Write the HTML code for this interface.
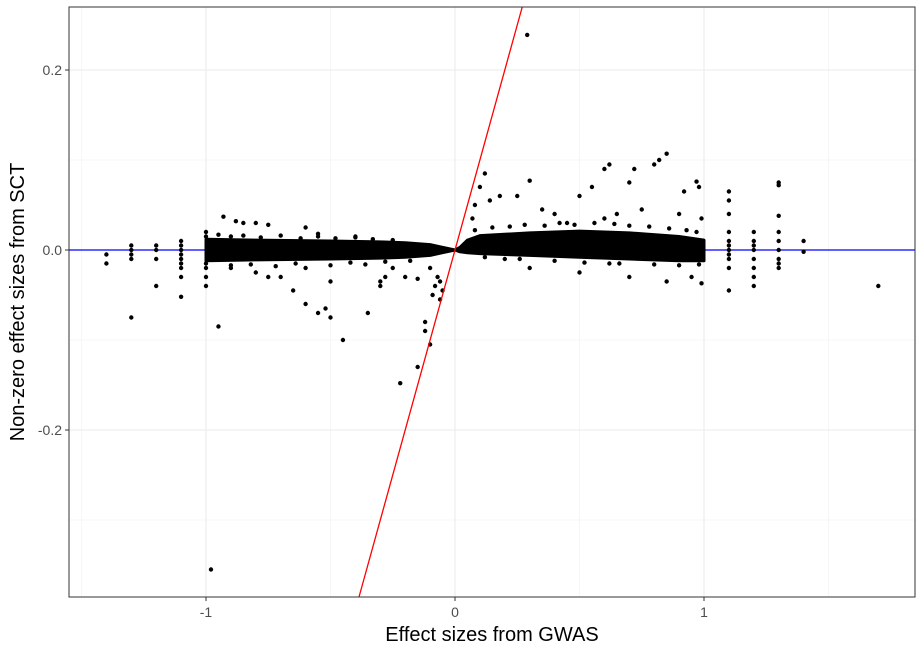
<!DOCTYPE html>
<html><head><meta charset="utf-8"><style>
body{margin:0;background:#fff}
svg{display:block;font-family:"Liberation Sans",sans-serif}
</style></head><body>
<svg id="chart" width="923" height="652" viewBox="0 0 923 652" xmlns="http://www.w3.org/2000/svg">
<rect x="0" y="0" width="923" height="652" fill="#fff"/>
<g id="grid"></g>
<g id="hline"></g>
<g id="band"></g>
<g id="pts"></g>
<g id="lines"></g>
<rect x="69" y="7" width="846" height="590" fill="none" stroke="#333" stroke-width="1"/>
<g id="axes"></g>
<text x="492" y="641" font-size="20" text-anchor="middle" fill="#000">Effect sizes from GWAS</text>
<text transform="translate(24,302) rotate(-90)" font-size="20" text-anchor="middle" fill="#000">Non-zero effect sizes from SCT</text>
</svg>
<script>
const xTicks=[-1,0,1];
const xTickLabels=["-1","0","1"];
const xMinor=[-1.5,-0.5,0.5,1.5];
const yTicks=[0.2,0,-0.2];
const yTickLabels=["0.2","0.0","-0.2"];
const yMinor=[0.1,-0.1,-0.3];
const bandX=[-1,-0.8,-0.5,-0.3,-0.2,-0.1,-0.05,0,0.02,0.05,0.1,0.3,0.5,0.7,0.9,1];
const bandTop=[0.012,0.011,0.01,0.009,0.008,0.006,0.003,0,0.003,0.011,0.016,0.019,0.021,0.019,0.015,0.011];
const bandBot=[-0.012,-0.011,-0.01,-0.009,-0.008,-0.006,-0.003,0,-0.002,-0.003,-0.004,-0.006,-0.008,-0.01,-0.012,-0.012];
const ptX=[-1.4,-1.4,-1.3,-1.3,-1.3,-1.3,-1.3,-1.2,-1.2,-1.2,-1.2,-1.1,-1.1,-1.1,-1.1,-1.1,-1.1,-1.1,-1.1,-1.1,
-1,-1,-1,-1,-1,-1,
-0.98,-0.95,-0.93,-0.88,-0.85,-0.8,-0.75,-0.7,-0.65,-0.6,-0.55,-0.52,-0.5,-0.5,-0.45,-0.35,-0.3,-0.28,-0.2,-0.15,-0.1,-0.3,-0.25,-0.6,-0.55,-0.4,-0.6,-0.8,-0.9,-0.75,
-0.07,-0.06,-0.08,-0.09,-0.05,-0.06,-0.12,-0.1,-0.15,-0.22,-0.12,
0.29,0.12,0.3,0.18,0.1,0.14,0.07,0.08,0.25,0.35,0.4,0.5,0.55,0.6,0.62,0.72,0.7,0.82,0.85,0.8,0.92,0.97,0.98,0.6,0.45,0.65,0.75,0.9,0.99,0.3,0.5,0.7,0.85,0.95,0.99,0.2,0.62,
1.1,1.1,1.1,1.1,1.1,1.1,1.1,1.1,1.1,1.1,1.1,1.2,1.2,1.2,1.2,1.2,1.2,1.2,1.2,1.3,1.3,1.3,1.3,1.3,1.3,1.3,1.3,1.3,1.4,1.4,1.7,
-0.95,-0.9,-0.85,-0.78,-0.7,-0.62,-0.55,-0.48,-0.4,-0.33,-0.25,-0.9,-0.82,-0.72,-0.64,-0.5,-0.42,-0.36,-0.28,-0.18,
0.08,0.15,0.22,0.28,0.36,0.42,0.48,0.56,0.64,0.7,0.78,0.86,0.93,0.97,0.12,0.26,0.4,0.52,0.66,0.8,0.9,0.98];
const ptY=[-0.005,-0.015,0.005,0,-0.005,-0.01,-0.075,0.005,0,-0.01,-0.04,0.01,0.005,0,-0.005,-0.01,-0.015,-0.02,-0.03,-0.052,
0.02,0.015,-0.015,-0.02,-0.03,-0.04,
-0.355,-0.085,0.037,0.032,0.03,0.03,0.028,-0.03,-0.045,-0.06,-0.07,-0.065,-0.075,-0.035,-0.1,-0.07,-0.04,-0.03,-0.03,-0.032,-0.02,-0.035,-0.02,0.025,0.018,0.015,-0.02,-0.025,-0.02,-0.03,
-0.03,-0.035,-0.04,-0.05,-0.045,-0.055,-0.09,-0.105,-0.13,-0.148,-0.08,
0.239,0.085,0.077,0.06,0.07,0.055,0.035,0.05,0.06,0.045,0.04,0.06,0.07,0.09,0.095,0.09,0.075,0.1,0.107,0.095,0.065,0.076,0.07,0.035,0.03,0.04,0.045,0.04,0.035,-0.02,-0.025,-0.03,-0.035,-0.03,-0.037,-0.01,-0.015,
0.065,0.055,0.04,0.02,0.01,0.005,0,-0.005,-0.01,-0.02,-0.045,0.02,0.01,0.005,0,-0.01,-0.02,-0.03,-0.04,0.075,0.072,0.038,0.02,0.01,0,-0.01,-0.015,-0.02,0.01,-0.002,-0.04,
0.017,0.015,0.016,0.014,0.016,0.013,0.015,0.013,0.014,0.012,0.011,-0.017,-0.016,-0.018,-0.015,-0.017,-0.014,-0.016,-0.013,-0.012,
0.022,0.025,0.026,0.028,0.027,0.03,0.028,0.03,0.029,0.027,0.026,0.024,0.022,0.02,-0.008,-0.01,-0.012,-0.014,-0.015,-0.016,-0.017,-0.016];
const L=69,R=915,T=7,B=597;
const sx=v=>455+v*249, sy=v=>250-v*900;
const NS="http://www.w3.org/2000/svg";
function mk(tag,parent,attrs){const e=document.createElementNS(NS,tag);for(const k in attrs)e.setAttribute(k,attrs[k]);parent.appendChild(e);return e;}
const grid=document.getElementById('grid');
xMinor.forEach(v=>{const e=mk('line',grid,{x1:sx(v),x2:sx(v),y1:T,y2:B,stroke:'#f0f0f0','stroke-width':0.6});

});
yMinor.forEach(v=>{const e=mk('line',grid,{x1:L,x2:R,y1:sy(v),y2:sy(v),stroke:'#f0f0f0','stroke-width':0.6});

});
xTicks.forEach(v=>{const e=mk('line',grid,{x1:sx(v),x2:sx(v),y1:T,y2:B,stroke:'#ebebeb','stroke-width':1.1});

});
yTicks.forEach(v=>{const e=mk('line',grid,{x1:L,x2:R,y1:sy(v),y2:sy(v),stroke:'#ebebeb','stroke-width':1.1});

});
const hline=document.getElementById('hline');
const bl=mk('line',hline,{x1:L,x2:R,y1:sy(0),y2:sy(0),stroke:'#0000ff','stroke-width':1.2});


const band=document.getElementById('band');
let d='M'+bandX.map((x,i)=>sx(x)+','+sy(bandTop[i])).join(' L')+' L'+bandX.map((x,i)=>sx(x)+','+sy(bandBot[i])).reverse().join(' L')+'Z';
const bp=mk('path',band,{d:d,fill:'#000',stroke:'#000','stroke-width':3,'stroke-linejoin':'round'});


const pts=document.getElementById('pts');
ptX.forEach((x,i)=>{const c=mk('circle',pts,{cx:sx(x),cy:sy(ptY[i]),r:2.2,fill:'#000'});

});
const lines=document.getElementById('lines');
const yTopV=(250-T)/900, yBotV=(250-B)/900;
const rl=mk('line',lines,{x1:sx(yTopV),y1:T,x2:sx(yBotV),y2:B,stroke:'#ff0000','stroke-width':1.3});


const axes=document.getElementById('axes');
xTicks.forEach((v,i)=>{const t=mk('line',axes,{x1:sx(v),x2:sx(v),y1:B,y2:B+4,stroke:'#333'});


const tx=mk('text',axes,{x:sx(v),y:B+20,'font-size':14,'text-anchor':'middle',fill:'#4d4d4d'});tx.textContent=xTickLabels[i];

});
yTicks.forEach((v,i)=>{const t=mk('line',axes,{x1:L-4,x2:L,y1:sy(v),y2:sy(v),stroke:'#333'});


const tx=mk('text',axes,{x:L-7,y:sy(v)+5,'font-size':14,'text-anchor':'end',fill:'#4d4d4d'});tx.textContent=yTickLabels[i];

});
</script>
</body></html>
